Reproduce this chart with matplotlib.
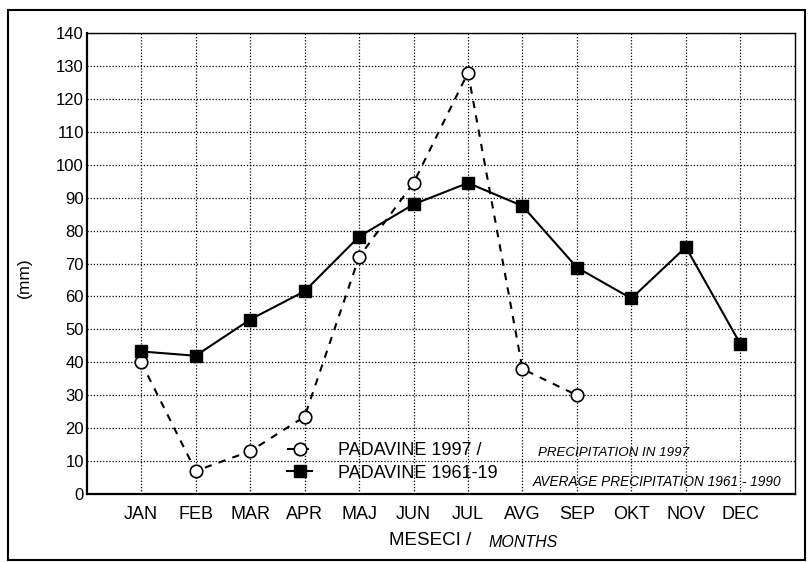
"""
Monthly precipitation 1997 vs 1961-1990 average.
"""
import numpy as np
import matplotlib.pyplot as plt
from matplotlib.patches import Rectangle

plt.rcParams["font.family"] = ["Liberation Sans", "DejaVu Sans"]

months = ["JAN", "FEB", "MAR", "APR", "MAJ", "JUN",
          "JUL", "AVG", "SEP", "OKT", "NOV", "DEC"]
precip_1997 = [40, 7, 13, 23.5, 72, 94.5, 128, 38, 30]
precip_avg = [43.3, 42, 53, 61.6, 78.2, 88, 94.5, 87.5, 68.8, 59.4, 75, 45.6]
yticks = list(range(0, 141, 10))

fig = plt.figure(figsize=(8.11, 5.62), dpi=100)
ax = fig.add_axes([0.107, 0.121, 0.873, 0.820])

x_all = np.arange(len(months))
ax.plot(x_all[:len(precip_1997)], precip_1997, color="black", lw=1.5,
        dashes=(3.5, 3.5), marker="o", ms=9, mfc="white", mec="black", mew=1.2,
        label="PADAVINE 1997 /")
ax.plot(x_all, precip_avg, color="black", lw=1.5, marker="s", ms=9,
        mfc="black", mec="black", label="PADAVINE 1961-19")

ax.set_xlim(-1, 12)
ax.set_ylim(0, 140)
ax.set_xticks(x_all)
ax.set_xticklabels(months, fontsize=13)
ax.set_yticks(yticks)
ax.tick_params(axis="y", labelsize=12, length=0, pad=2)
ax.tick_params(axis="x", length=0, pad=9)
ax.grid(True, color="black", ls=(0, (1, 1.5)), lw=0.9)

for side in ["left", "bottom"]:
    ax.spines[side].set_linewidth(1.6)
for side in ["top", "right"]:
    ax.spines[side].set_linewidth(1.0)

ax.set_ylabel("(mm)", fontsize=12.5)
ax.yaxis.set_label_coords(-0.077, 0.47)

leg = ax.legend(loc="upper left", bbox_to_anchor=(0.283, 0.113), frameon=False,
                fontsize=13, handlelength=1.4, handletextpad=1.4,
                labelspacing=0.32, borderaxespad=0, borderpad=0)

ax.text(0.638, 0.089, "PRECIPITATION IN 1997", transform=ax.transAxes,
        fontsize=9.6, style="italic", ha="left", va="center")
ax.text(0.630, 0.026, "AVERAGE PRECIPITATION 1961 - 1990", transform=ax.transAxes,
        fontsize=9.8, style="italic", ha="left", va="center")

fig.text(0.530, 0.038, "MESECI /", fontsize=13.5, ha="center", va="center")
fig.text(0.645, 0.035, "MONTHS", fontsize=11.5, style="italic", ha="center", va="center")

fig.patches.append(Rectangle((0.010, 0.003), 0.983, 0.979, transform=fig.transFigure,
                             fill=False, ec="black", lw=1.5))

fig.savefig("out.png", dpi=100)
plt.close(fig)
